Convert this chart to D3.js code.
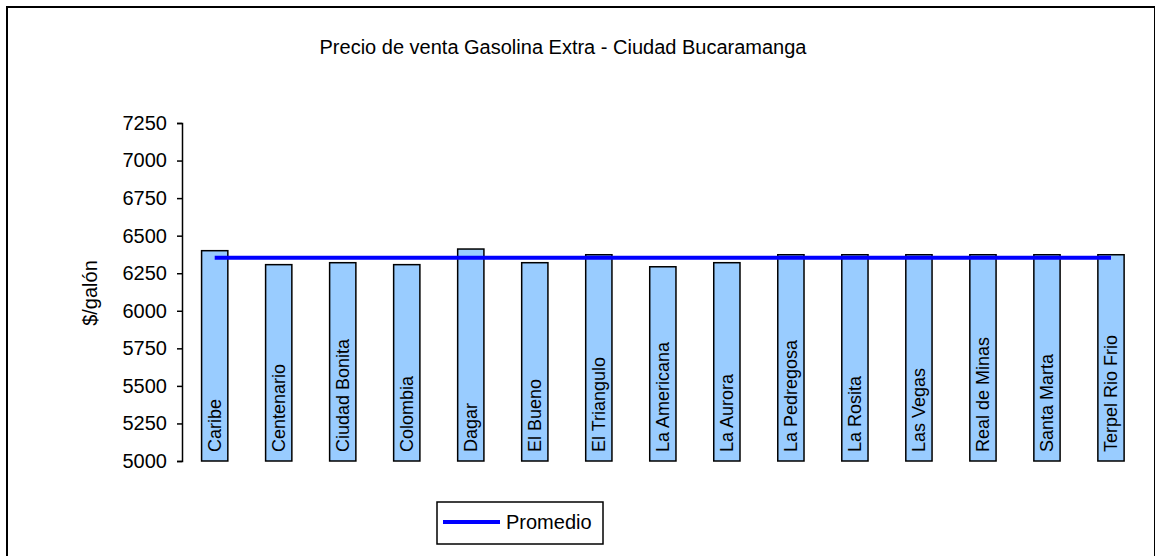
<!DOCTYPE html>
<html>
<head>
<meta charset="utf-8">
<script src="https://cdn.jsdelivr.net/npm/d3@7"></script>
<style>
  body { margin: 0; background: #fff; }
  svg { display: block; font-family: "Liberation Sans", Arial, sans-serif; }
</style>
</head>
<body>
<svg id="canvas" width="1155" height="556"></svg>
<script>
let estaciones = ["Caribe", "Centenario", "Ciudad Bonita", "Colombia", "Dagar", "El Bueno",
  "El Triangulo", "La Americana", "La Aurora", "La Pedregosa", "La Rosita", "Las Vegas",
  "Real de Minas", "Santa Marta", "Terpel Rio Frio"];
let precios = [6400, 6307, 6320, 6307, 6411, 6320, 6373, 6293, 6320, 6373, 6373, 6373, 6373, 6373, 6373];
let promedio = 6353;
let yTicks = [5000, 5250, 5500, 5750, 6000, 6250, 6500, 6750, 7000, 7250];

let canvas = d3.select("#canvas");

// chart frame (bottom edge runs off the picture)
canvas.append("rect")
  .attr("x", 7).attr("y", 7)
  .attr("width", 1148).attr("height", 600)
  .attr("fill", "none").attr("stroke", "#000").attr("stroke-width", 2);

canvas.append("text")
  .attr("x", 563).attr("y", 54)
  .attr("text-anchor", "middle")
  .attr("font-size", "20px")
  .text("Precio de venta Gasolina Extra - Ciudad Bucaramanga");

let x = d3.scaleBand()
  .domain(estaciones)
  .range([182.7, 1143])
  .paddingInner(0.59)
  .paddingOuter(0.295);

let y = d3.scaleLinear()
  .domain([5000, 7250])
  .range([461, 123]);

let yAxis = d3.axisLeft(y).tickValues(yTicks).tickSize(5).tickPadding(10).tickFormat(d3.format("d"));
let axisG = canvas.append("g")
  .attr("transform", "translate(182,0)")
  .call(yAxis);
axisG.select(".domain").attr("stroke-width", 1.5);
axisG.selectAll(".tick line").attr("stroke-width", 1.5);
axisG.selectAll(".tick text")
  .attr("font-size", "20px")
  .attr("font-family", "Liberation Sans, Arial, sans-serif")
  .attr("fill", "#000");

canvas.append("text")
  .attr("transform", "translate(97,293) rotate(-90)")
  .attr("text-anchor", "middle")
  .attr("font-size", "20px")
  .text("$/galón");

let data = estaciones.map((d, i) => ({ name: d, value: precios[i] }));

canvas.selectAll("rect.bar")
  .data(data)
  .enter()
  .append("rect")
  .attr("class", "bar")
  .attr("x", (d) => x(d.name))
  .attr("y", (d) => y(d.value))
  .attr("width", x.bandwidth())
  .attr("height", (d) => y(5000) - y(d.value))
  .attr("fill", "#99ccff")
  .attr("stroke", "#000")
  .attr("stroke-width", 1.5);

canvas.selectAll("text.label")
  .data(data)
  .enter()
  .append("text")
  .attr("class", "label")
  .attr("transform", (d) => "translate(" + (x(d.name) + x.bandwidth() / 2 + 6) + ",452) rotate(-90)")
  .attr("font-size", "18px")
  .text((d) => d.name);

// average line from first to last bar centre
let first = estaciones[0];
let last = estaciones[estaciones.length - 1];
canvas.append("line")
  .attr("x1", x(first) + x.bandwidth() / 2)
  .attr("x2", x(last) + x.bandwidth() / 2)
  .attr("y1", y(promedio))
  .attr("y2", y(promedio))
  .attr("stroke", "#0000ff")
  .attr("stroke-width", 4);

// legend
let legend = canvas.append("g");
legend.append("rect")
  .attr("x", 437).attr("y", 502)
  .attr("width", 166).attr("height", 42)
  .attr("fill", "#fff").attr("stroke", "#000").attr("stroke-width", 1.5);
legend.append("line")
  .attr("x1", 443).attr("x2", 500)
  .attr("y1", 522).attr("y2", 522)
  .attr("stroke", "#0000ff").attr("stroke-width", 4);
legend.append("text")
  .attr("x", 506).attr("y", 529)
  .attr("font-size", "20px")
  .text("Promedio");
</script>
</body>
</html>
